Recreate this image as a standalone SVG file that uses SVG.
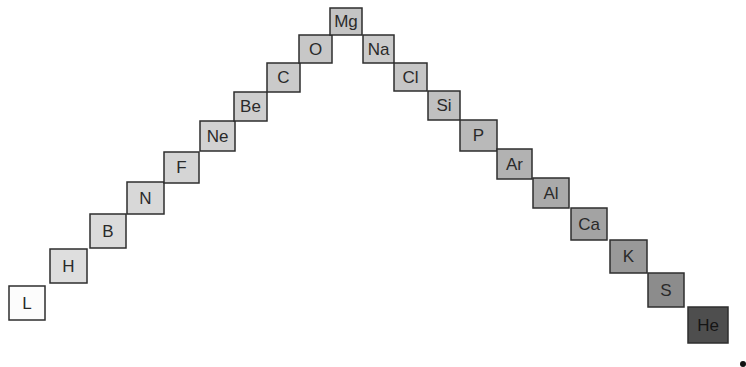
<svg xmlns="http://www.w3.org/2000/svg" width="746" height="367" viewBox="0 0 746 367">
<style>
.box{stroke:#2e2e2e;stroke-width:1.5}
text{font-family:"Liberation Sans",Arial,sans-serif;font-size:17px;fill:#2a2a2a;text-anchor:middle;dominant-baseline:central}
</style>
<rect width="746" height="367" fill="#ffffff"/>
<g id="connectors"></g>
<g id="n-L"><rect class="box" x="9" y="286" width="36" height="34" fill="#fcfcfc"/><text x="27" y="303">L</text></g>
<g id="n-H"><rect class="box" x="50" y="249" width="37" height="34" fill="#dedede"/><text x="68.5" y="266">H</text></g>
<g id="n-B"><rect class="box" x="90" y="214" width="36" height="34" fill="#dbdbdb"/><text x="108" y="231">B</text></g>
<g id="n-N"><rect class="box" x="127" y="182" width="37" height="32" fill="#d8d8d8"/><text x="145.5" y="198">N</text></g>
<g id="n-F"><rect class="box" x="164" y="152" width="35" height="31" fill="#d5d5d5"/><text x="181.5" y="167.5">F</text></g>
<g id="n-Ne"><rect class="box" x="200" y="121" width="35" height="30" fill="#d2d2d2"/><text x="217.5" y="136">Ne</text></g>
<g id="n-Be"><rect class="box" x="234" y="92" width="33" height="29" fill="#cecece"/><text x="250.5" y="106.5">Be</text></g>
<g id="n-C"><rect class="box" x="267" y="63" width="33" height="29" fill="#cacaca"/><text x="283.5" y="77.5">C</text></g>
<g id="n-O"><rect class="box" x="299" y="35" width="33" height="28" fill="#c7c7c7"/><text x="315.5" y="49">O</text></g>
<g id="n-Mg"><rect class="box" x="330" y="8" width="32" height="27" fill="#c4c4c4"/><text x="346" y="21.5">Mg</text></g>
<g id="n-Na"><rect class="box" x="363" y="35" width="31" height="28" fill="#cbcbcb"/><text x="378.5" y="49">Na</text></g>
<g id="n-Cl"><rect class="box" x="394" y="63" width="33" height="28" fill="#c6c6c6"/><text x="410.5" y="77">Cl</text></g>
<g id="n-Si"><rect class="box" x="428" y="91" width="32" height="29" fill="#c0c0c0"/><text x="444" y="105.5">Si</text></g>
<g id="n-P"><rect class="box" x="460" y="120" width="37" height="31" fill="#b9b9b9"/><text x="478.5" y="135.5">P</text></g>
<g id="n-Ar"><rect class="box" x="497" y="149" width="35" height="30" fill="#b2b2b2"/><text x="514.5" y="164">Ar</text></g>
<g id="n-Al"><rect class="box" x="533" y="178" width="36" height="30" fill="#aaaaaa"/><text x="551" y="193">Al</text></g>
<g id="n-Ca"><rect class="box" x="571" y="208" width="36" height="32" fill="#a3a3a3"/><text x="589" y="224">Ca</text></g>
<g id="n-K"><rect class="box" x="610" y="240" width="37" height="33" fill="#999999"/><text x="628.5" y="256.5">K</text></g>
<g id="n-S"><rect class="box" x="648" y="273" width="36" height="34" fill="#8c8c8c"/><text x="666" y="290">S</text></g>
<g id="n-He"><rect class="box" x="688" y="307" width="40" height="36" fill="#4e4e4e"/><text x="708" y="325" style="fill:#151515">He</text></g>
<circle cx="743" cy="364" r="3" fill="#111"/>
</svg>
